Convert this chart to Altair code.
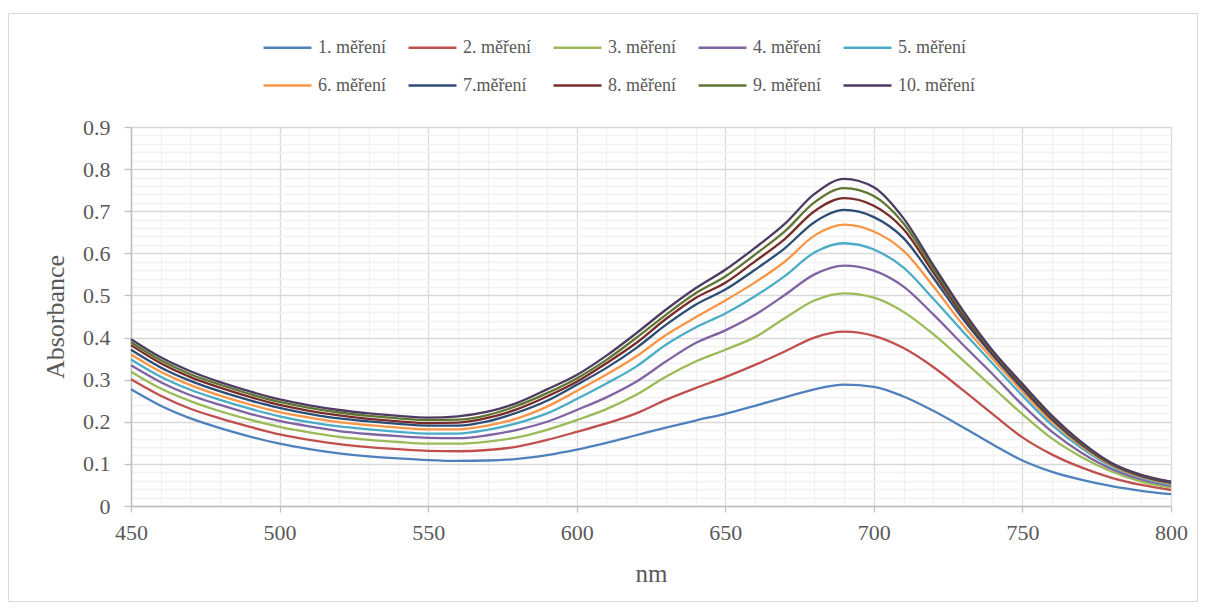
import altair as alt
import pandas as pd

WAVELENGTH = [450, 460, 470, 480, 490, 500, 510, 520, 530, 540, 550,
              560, 570, 580, 590, 600, 610, 620, 630, 640, 650,
              660, 670, 680, 690, 700, 710, 720, 730, 740, 750,
              760, 770, 780, 790, 800]

SERIES = ["1. měření", "2. měření", "3. měření", "4. měření", "5. měření",
          "6. měření", "7.měření", "8. měření", "9. měření", "10. měření"]

S1 = [.277, .238, .208, .185, .165, .148, .135, .125, .118, .113, .109,
      .107, .108, .112, .121, .134, .150, .168, .186, .203, .219,
      .238, .258, .277, .288, .283, .260, .226, .187, .146, .108,
      .081, .062, .047, .036, .028]
S2 = [.301, .262, .231, .208, .188, .170, .157, .147, .140, .135, .131,
      .130, .133, .141, .157, .176, .196, .220, .252, .280, .306,
      .335, .367, .400, .414, .404, .375, .330, .275, .218, .163,
      .122, .091, .067, .050, .038]
S3 = [.319, .279, .249, .225, .205, .188, .175, .164, .157, .152, .148,
      .148, .153, .163, .181, .204, .230, .264, .307, .343, .371,
      .401, .446, .488, .505, .495, .461, .408, .346, .282, .218,
      .160, .116, .082, .058, .044]
S4 = [.334, .294, .263, .240, .219, .202, .189, .178, .171, .166, .162,
      .161, .168, .181, .200, .228, .258, .295, .343, .387, .417,
      .454, .501, .550, .571, .559, .521, .455, .383, .313, .240,
      .176, .126, .088, .063, .048]
S5 = [.348, .307, .276, .252, .231, .213, .199, .189, .182, .176, .172,
      .172, .181, .197, .220, .254, .291, .331, .383, .424, .457,
      .498, .546, .602, .624, .609, .566, .492, .414, .338, .262,
      .192, .137, .094, .067, .051]
S6 = [.360, .319, .287, .262, .241, .223, .210, .199, .192, .186, .182,
      .182, .191, .208, .236, .273, .312, .355, .406, .448, .488,
      .531, .580, .642, .668, .652, .606, .522, .430, .349, .272,
      .200, .142, .097, .069, .053]
S7 = [.371, .329, .297, .272, .251, .233, .219, .208, .201, .195, .191,
      .191, .201, .222, .250, .288, .328, .375, .430, .478, .514,
      .561, .612, .674, .703, .686, .636, .542, .444, .358, .279,
      .205, .145, .099, .071, .055]
S8 = [.382, .339, .306, .281, .259, .240, .226, .215, .207, .201, .197,
      .198, .209, .230, .260, .295, .339, .387, .444, .494, .530,
      .581, .634, .700, .731, .713, .657, .555, .452, .363, .284,
      .208, .147, .100, .072, .056]
S9 = [.389, .346, .313, .288, .266, .247, .233, .222, .214, .208, .204,
      .205, .216, .238, .268, .303, .347, .399, .454, .505, .545,
      .597, .652, .721, .755, .736, .671, .564, .458, .366, .287,
      .211, .149, .101, .073, .057]
S10 = [.396, .353, .320, .294, .272, .253, .239, .228, .220, .214, .210,
       .213, .224, .245, .277, .311, .357, .410, .466, .517, .561,
       .613, .670, .741, .777, .757, .683, .572, .464, .369, .290,
       .214, .151, .102, .074, .058]

COLORS = ["#4F81BD", "#C0504D", "#9BBB59", "#8064A2", "#4BACC6",
          "#F79646", "#2C4D75", "#772C2A", "#5F7530", "#4D3B62"]

X_TICKS = [450, 460, 470, 480, 490, 500, 510, 520, 530, 540, 550,
           560, 570, 580, 590, 600, 610, 620, 630, 640, 650,
           660, 670, 680, 690, 700, 710, 720, 730, 740, 750,
           760, 770, 780, 790, 800]
Y_TICKS = [0, 0.02, 0.04, 0.06, 0.08, 0.1, 0.12, 0.14, 0.16, 0.18,
           0.2, 0.22, 0.24, 0.26, 0.28, 0.3, 0.32, 0.34, 0.36, 0.38,
           0.4, 0.42, 0.44, 0.46, 0.48, 0.5, 0.52, 0.54, 0.56, 0.58,
           0.6, 0.62, 0.64, 0.66, 0.68, 0.7, 0.72, 0.74, 0.76, 0.78,
           0.8, 0.82, 0.84, 0.86, 0.88, 0.9]

rows = []
for i, (name, vals) in enumerate(zip(SERIES, [S1, S2, S3, S4, S5, S6, S7, S8, S9, S10])):
    for w, v in zip(WAVELENGTH, vals):
        rows.append({"nm": w, "A": v, "serie": name, "idx": i})
df = pd.DataFrame(rows)

FONT = "'Liberation Serif', 'Times New Roman', 'DejaVu Serif', serif"
TXT = "#595959"
X_MAJOR = "datum.value % 50 === 0"
Y_MAJOR = "abs(datum.value * 10 - round(datum.value * 10)) < 0.001"

x_axis = alt.Axis(
    values=X_TICKS, grid=True,
    gridColor={"condition": {"test": X_MAJOR, "value": "#D9D9D9"}, "value": "#F2F2F2"},
    gridWidth=1.3,
    tickOpacity={"condition": {"test": X_MAJOR, "value": 1}, "value": 0},
    tickColor="#BFBFBF", tickSize=6, tickWidth=1.3,
    domainColor="#BFBFBF", domainWidth=1.5,
    labelExpr="datum.value % 50 === 0 ? datum.label : ''",
    labelFont=FONT, labelFontSize=22, labelColor=TXT, labelPadding=10,
    labelFlush=False, labelOverlap=False,
    title="nm", titleFont=FONT, titleFontSize=25, titleColor=TXT,
    titleFontWeight="normal", titlePadding=18,
)
y_axis = alt.Axis(
    values=Y_TICKS, grid=True,
    gridColor={"condition": {"test": Y_MAJOR, "value": "#D9D9D9"}, "value": "#F2F2F2"},
    gridWidth=1.3,
    tickOpacity={"condition": {"test": Y_MAJOR, "value": 1}, "value": 0},
    tickColor="#BFBFBF", tickSize=7, tickWidth=1.3,
    domainColor="#BFBFBF", domainWidth=1.5,
    labelExpr="(" + Y_MAJOR + ") ? (datum.value === 0 ? '0' : format(datum.value, '.1f')) : ''",
    labelFont=FONT, labelFontSize=22, labelColor=TXT, labelPadding=14,
    labelFlush=False, labelOverlap=False,
    title="Absorbance", titleFont=FONT, titleFontSize=26, titleColor=TXT,
    titleFontWeight="normal", titlePadding=14,
)

lines = alt.Chart(df).mark_line(strokeWidth=2.3, interpolate="monotone").encode(
    x=alt.X("nm:Q", scale=alt.Scale(domain=[450, 800], nice=False, zero=False), axis=x_axis),
    y=alt.Y("A:Q", scale=alt.Scale(domain=[0, 0.9], nice=False), axis=y_axis),
    color=alt.Color(
        "serie:N", sort=SERIES,
        scale=alt.Scale(domain=SERIES, range=COLORS),
        legend=alt.Legend(
            title=None, orient="none", legendX=131, legendY=-105,
            direction="horizontal", columns=5,
            symbolType="stroke", symbolSize=2300, symbolStrokeWidth=2.6,
            labelFont=FONT, labelFontSize=18, labelColor=TXT, labelOffset=5,
            columnPadding=17, rowPadding=3, padding=0,
        ),
    ),
    order=alt.Order("idx:Q"),
)

border = alt.Chart(alt.Data(values=[{"b": 1}])).mark_rect(
    fill="transparent", stroke="#D9D9D9", strokeWidth=1
).encode(
    x=alt.value(-122.5), x2=alt.value(1066.5),
    y=alt.value(-113.5), y2=alt.value(474.5),
)

chart = alt.layer(border, lines).properties(
    width=1040, height=379,
    autosize=alt.AutoSizeParams(type="none"),
    padding={"left": 123, "top": 119, "right": 27, "bottom": 96},
).configure_view(strokeOpacity=0).configure(font=FONT)

chart.save("out.html", embed_options={"renderer": "svg", "actions": False})
